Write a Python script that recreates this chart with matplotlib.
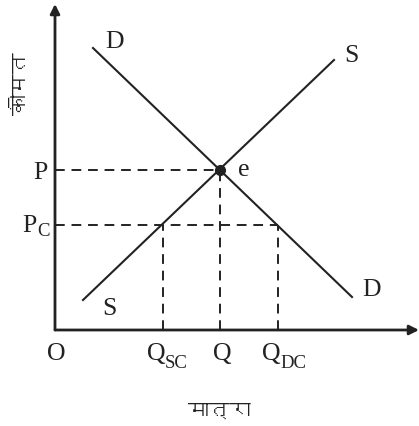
import matplotlib
matplotlib.use("Agg")
import matplotlib.pyplot as plt
from matplotlib import font_manager
from matplotlib.ft2font import FT2Font

# market data (quantity, price) in chart units, origin at O
demand_q = [38, 297]
demand_p = [282, 33]
supply_q = [28, 279]
supply_p = [30, 270]
eq_q = 165          # Q
eq_p = 160          # P
ceiling_p = 105     # P_C
q_sc = 108          # quantity supplied at P_C
q_dc = 223          # quantity demanded at P_C

price_label = "कीमत"
qty_label = "मात्रा"


def find_devanagari_font():
    seen = set()
    for entry in font_manager.fontManager.ttflist:
        if entry.fname in seen:
            continue
        seen.add(entry.fname)
        try:
            if 0x0915 in FT2Font(entry.fname).get_charmap():
                return entry.fname
        except Exception:
            pass
    return None


plt.rcParams['font.family'] = 'Liberation Serif'

dev_path = find_devanagari_font()
if dev_path:
    dev_font = font_manager.FontProperties(fname=dev_path, size=15)
else:
    dev_font = font_manager.FontProperties(family='DejaVu Sans', size=15)

W, H = 419, 427
fig = plt.figure(figsize=(W / 100, H / 100), dpi=100)
ax = fig.add_axes([55 / W, 96 / H, 364 / W, 326 / H])
ax.set_xlim(0, 364)
ax.set_ylim(0, 326)
ax.axis('off')

# axes with arrows
arrow = dict(arrowstyle='-|>', lw=2, color='#222222', mutation_scale=14,
             shrinkA=0, shrinkB=0)
ax.annotate('', xy=(364, 0), xytext=(0, 0), arrowprops=arrow, annotation_clip=False)
ax.annotate('', xy=(0, 326), xytext=(0, 0), arrowprops=arrow, annotation_clip=False)

# demand and supply
ax.plot(demand_q, demand_p, color='#222222', lw=1.5, clip_on=False)
ax.plot(supply_q, supply_p, color='#222222', lw=1.5, clip_on=False)

# dashed guides
dash = dict(color='#222222', lw=1.4, linestyle=(0, (5, 3.5)), clip_on=False)
ax.plot([0, eq_q], [eq_p, eq_p], **dash)
ax.plot([eq_q, eq_q], [0, eq_p], **dash)
ax.plot([0, q_dc], [ceiling_p, ceiling_p], **dash)
ax.plot([q_sc, q_sc], [0, ceiling_p], **dash)
ax.plot([q_dc, q_dc], [0, ceiling_p], **dash)

# equilibrium point
ax.plot([eq_q], [eq_p], 'o', color='#222222', markersize=7, clip_on=False)

fs = 18.5
sub = 13.5
txt = dict(fontsize=fs, va='baseline', color='#222222')
ax.text(eq_q + 23.5, eq_p - 5, 'e', ha='center', **txt)
ax.text(demand_q[0] + 22, demand_p[0] + 1, 'D', ha='center', **txt)
ax.text(demand_q[1] + 19.5, demand_p[1] + 2, 'D', ha='center', **txt)
ax.text(supply_q[1] + 17, supply_p[1] - 1, 'S', ha='center', **txt)
ax.text(supply_q[0] + 26.5, supply_p[0] - 14, 'S', ha='center', **txt)

ax.text(-15, eq_p - 8, 'P', ha='center', **txt)
ax.text(-18, ceiling_p - 6, 'P', ha='right', **txt)
ax.text(-18, ceiling_p - 10, 'C', ha='left', fontsize=sub, va='baseline', color='#222222')
ax.text(1, -29, 'O', ha='center', **txt)
ax.text(eq_q + 2.5, -29, 'Q', ha='center', **txt)
for q, s in [(q_sc, 'SC'), (q_dc, 'DC')]:
    ax.text(q + 2, -29, 'Q', ha='right', **txt)
    ax.text(q + 2, -37, s, ha='left', fontsize=sub, va='baseline', color='#222222')

ax.text(eq_q - 1, -80, qty_label, fontproperties=dev_font, va='center',
        ha='center', color='#222222')
ax.text(-34, 247, price_label, fontproperties=dev_font, rotation=90,
        va='center', ha='center', color='#222222')

fig.savefig('out.png', dpi=100)
